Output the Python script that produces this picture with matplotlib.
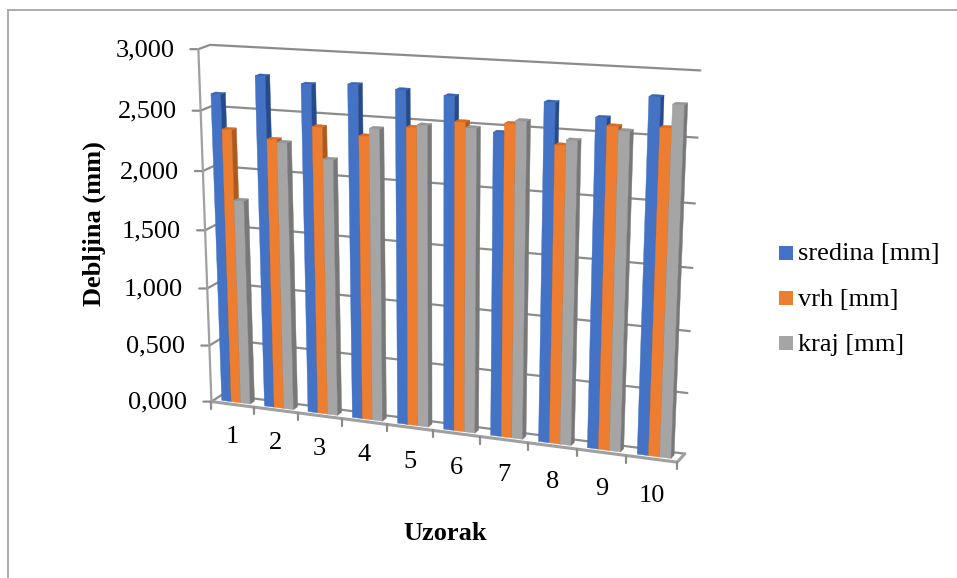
import matplotlib
matplotlib.use("Agg")
import matplotlib.pyplot as plt
from matplotlib.patches import Polygon, Rectangle
import numpy as np

plt.rcParams['font.family'] = ['Liberation Serif', 'DejaVu Serif']

#Thickness per sample
samples = ["1", "2", "3", "4", "5", "6", "7", "8", "9", "10"]
sredina = [2630, 2799, 2755, 2775, 2755, 2730, 2470, 2728, 2635, 2815]
vrh = [2345, 2290, 2418, 2370, 2465, 2534, 2545, 2405, 2577, 2590]
kraj = [1760, 2270, 2160, 2435, 2488, 2492, 2572, 2448, 2546, 2768]
seriesNames = ["sredina [mm]", "vrh [mm]", "kraj [mm]"]
yTicks = [0, 500, 1000, 1500, 2000, 2500, 3000]
yTickLabels = ["0,000", "0,500", "1,000", "1,500", "2,000", "2,500", "3,000"]

#face, side and top colours for each series
colours = [("#4472C4", "#264A8C", "#3A64B0"),
           ("#ED7D31", "#AD5A1F", "#D96C20"),
           ("#A5A5A5", "#787878", "#959595")]
gridColour = "#8C8C8C"
frameColour = "#A6A6A6"
fontSize = 19
yMax = 3000.0
gapWidth = 1.5
barDepth = (0.3, 0.7)

#Corners of the plot box: (category, value, depth) -> pixel
anchors = [
    ((0, 0, 0), (212, 401)), ((0, 3000, 0), (198, 49)), ((10, 0, 0), (677, 463)),
    ((0, 0, 1), (222, 395)), ((0, 3000, 1), (211, 44.7)), ((10, 3000, 1), (700, 70.7)),
    ((10, 0, 1), (685, 453)), ((0, 2500, 1), (211.7, 106)), ((10, 2500, 1), (698, 137.7)),
    ((0, 2000, 1), (214, 166)), ((10, 2000, 1), (695, 203)),
]


#Solve the 3x4 projection matrix from the box corners
def fitCamera(points):
    rows = []
    rhs = []
    for (u, v, d), (px, py) in points:
        u, v = u / 10.0, v / yMax
        rows.append([u, v, d, 1, 0, 0, 0, 0, -px * u, -px * v, -px * d])
        rows.append([0, 0, 0, 0, u, v, d, 1, -py * u, -py * v, -py * d])
        rhs += [px, py]
    sol = np.linalg.lstsq(np.array(rows, float), np.array(rhs, float), rcond=None)[0]
    return np.append(sol, 1.0).reshape(3, 4)


camera = fitCamera(anchors)


#Project a chart position to figure pixels
def project(u, v, d):
    x, y, w = camera @ np.array([u / 10.0, v / yMax, d, 1.0])
    return (x / w, y / w)


fig = plt.figure(figsize=(9.57, 5.78), dpi=100)
ax = fig.add_axes([0, 0, 1, 1])
ax.set_xlim(0, 957)
ax.set_ylim(578, 0)
ax.axis("off")

#Outer chart border, only left and top show
ax.plot([7.5, 7.5], [578, 10], color=frameColour, lw=1.3)
ax.plot([7.5, 957], [10, 10], color=frameColour, lw=1.3)


def line(points, width=1.6, colour=gridColour, z=1):
    ax.plot([p[0] for p in points], [p[1] for p in points], color=colour, lw=width,
            zorder=z, solid_capstyle="round")


#Value gridlines run over the side wall and the back wall
for tick, label in zip(yTicks, yTickLabels):
    front = project(0, tick, 0)
    line([(front[0] - 8, front[1]), front, project(0, tick, 1), project(10, tick, 1)])
    ax.text(front[0] - 24, front[1] + 1, label, ha="right", va="center",
            fontsize=fontSize, color="black")

#Left edge and floor outline
line([project(0, 0, 0), project(0, yMax, 0)], colour="#A0A0A0")
line([project(0, 0, 0), project(10, 0, 0), project(10, 0, 1)], width=2.2, colour="#A0A0A0", z=1.5)

#Category ticks and labels along the front floor edge
for i in range(len(samples) + 1):
    base = project(i, 0, 0)
    line([base, (base[0], base[1] + 7)], z=1.5)
for i, name in enumerate(samples):
    base = project(i + 0.5, 0, 0)
    ax.text(base[0], base[1] + 32.5 + 0.5 * i, name, ha="center", va="center",
            fontsize=fontSize, color="black")


#One bar: front, right side and top face
def drawBar(left, right, value, cols, z):
    d0, d1 = barDepth
    faces = [
        ([(left, 0, d0), (right, 0, d0), (right, value, d0), (left, value, d0)], cols[0]),
        ([(right, 0, d0), (right, 0, d1), (right, value, d1), (right, value, d0)], cols[1]),
        ([(left, value, d0), (right, value, d0), (right, value, d1), (left, value, d1)], cols[2]),
    ]
    for corners, colour in faces:
        poly = Polygon([project(*c) for c in corners], closed=True, facecolor=colour,
                       edgecolor=colour, lw=0.3, zorder=z)
        ax.add_patch(poly)


#Clustered bars, drawn left to right so later ones cover earlier sides
allSeries = [sredina, vrh, kraj]
barWidth = 1.0 / (len(allSeries) + gapWidth)
z = 2.0
for i in range(len(samples)):
    for s, values in enumerate(allSeries):
        left = i + (gapWidth / 2 + s) * barWidth
        drawBar(left, left + barWidth, values[i], colours[s], z)
        z += 0.01

#Axis titles
ax.text(94, 224, "Debljina (mm)", rotation=90, ha="center", va="center",
        fontsize=fontSize, fontweight="bold", color="black")
ax.text(445, 533, "Uzorak", ha="center", va="center", fontsize=fontSize,
        fontweight="bold", color="black")

#Legend
for name, cols, cy in zip(seriesNames, colours, [253, 298, 343]):
    ax.add_patch(Rectangle((779, cy - 7), 14, 14, facecolor=cols[0], edgecolor="none"))
    ax.text(798, cy + 1.5, name, ha="left", va="center", fontsize=fontSize, color="black")

plt.savefig("out.png", dpi=100)
